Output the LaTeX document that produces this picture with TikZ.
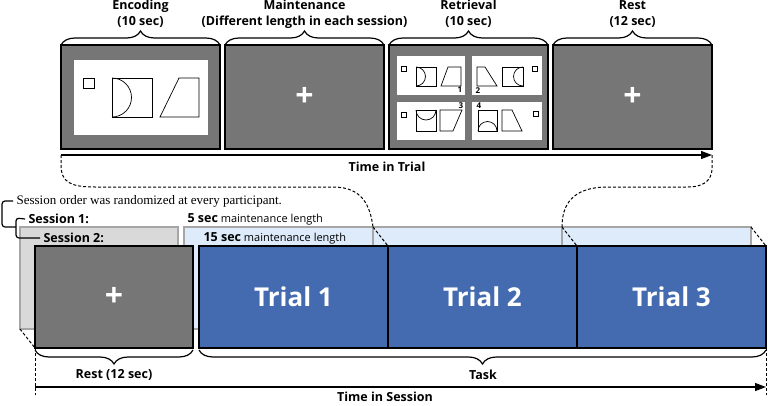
\documentclass[tikz,border=0pt]{standalone}
\usepackage{fontspec}
\setmainfont{Open Sans}
\newfontfamily\timesfont{Liberation Serif}
\usetikzlibrary{positioning,arrows.meta,decorations.pathreplacing}

\definecolor{screengray}{RGB}{118,118,118}
\definecolor{trialblue}{RGB}{68,106,176}
\definecolor{backgray}{RGB}{217,217,217}
\definecolor{backblue}{RGB}{222,235,250}
\definecolor{edgegray}{RGB}{166,166,166}

\newcommand{\crosshair}{{\fontsize{32}{32}\selectfont\bfseries +}}

\tikzset{
  screen/.style={draw=black, line width=1.2pt, fill=screengray, text=white,
    minimum width=159pt, minimum height=104pt, inner sep=0pt, outer sep=0pt},
  restbox/.style={screen, minimum width=158pt, minimum height=102pt},
  trialbox/.style={screen, fill=trialblue, minimum width=189pt, minimum height=102pt,
    font=\bfseries\fontsize{26}{26}\selectfont},
  backbox/.style={draw=edgegray, line width=1.2pt, fill=backblue,
    minimum width=189pt, minimum height=102pt, inner sep=0pt, outer sep=0pt},
  toplbl/.style={align=center, font=\bfseries\fontsize{12.5}{16}\selectfont},
  lbl/.style={font=\bfseries\fontsize{12.5}{15}\selectfont},
  brc/.style={decorate, line width=1.2pt,
    decoration={brace, amplitude=14pt}},
  timeline/.style={line width=1.2pt, -{Triangle[length=11pt,width=8pt]}},
  dashline/.style={line width=1pt, dash pattern=on 3pt off 2pt},
  shp/.style={line width=0.7pt},
  digit/.style={font=\bfseries\fontsize{8}{8}\selectfont, inner sep=0pt}
}

\begin{document}
\begin{tikzpicture}[x=1pt,y=-1pt]
\useasboundingbox (0,0) rectangle (768,405);

% one trial
\node[screen] (enc) at (140.5,97) {};
\node[screen, right=5pt of enc] (maint) {\crosshair};
\node[screen, right=5pt of maint] (retr) {};
\node[screen, right=5pt of retr] (rest) {\crosshair};

\node[toplbl] (enclbl) at (enc.north |- 0,14) {Encoding\\(10 sec)};
\node[toplbl] (maintlbl) at (maint.north |- 0,14) {Maintenance\\(Different length in each session)};
\node[toplbl] (retrlbl) at (retr.north |- 0,14) {Retrieval\\(10 sec)};
\node[toplbl] (restlbl) at (rest.north |- 0,14) {Rest\\(12 sec)};

\draw[brc] (enc.north west) -- (enc.north east);
\draw[brc] (maint.north west) -- (maint.north east);
\draw[brc] (retr.north west) -- (retr.north east);
\draw[brc] (rest.north west) -- (rest.north east);

% encoding display
\fill[white] (74,60) rectangle (208,135);
\draw[shp] (83,78) rectangle (94,88);
\draw[shp] (112,78) rectangle (152,117);
\draw[shp] (112,78) arc(-90:90:19.5);
\draw[shp] (160,117) -- (179,78) -- (199,78) -- (199,117) -- cycle;

% retrieval displays
\begin{scope}[shift={(397,56)}]
\fill[white] (0,0) rectangle (68,39);
\draw[shp] (4,10) rectangle (9,15);
\draw[shp] (19,11) rectangle (39,30);
\draw[shp] (19,11) arc(-90:90:9.5);
\draw[shp] (44,30) -- (51,11) -- (64,11) -- (64,30) -- cycle;
\node[digit] at (63,34) {1};
\end{scope}
\begin{scope}[shift={(472,56)}]
\fill[white] (0,0) rectangle (70,39);
\draw[shp] (5,11) -- (13,11) -- (25,30) -- (5,30) -- cycle;
\draw[shp] (30,11) rectangle (51,30);
\draw[shp] (51,11) arc(-90:-270:9.5);
\draw[shp] (60,10) rectangle (65,15);
\node[digit] at (6,35) {2};
\end{scope}
\begin{scope}[shift={(397,102)}]
\fill[white] (0,0) rectangle (68,38);
\draw[shp] (4,10) rectangle (9,15);
\draw[shp] (19,8) rectangle (39,29);
\draw[shp] (19,8) arc(180:0:10);
\draw[shp] (43,8) -- (65,8) -- (56,29) -- (43,29) -- cycle;
\node[digit] at (64,4) {3};
\end{scope}
\begin{scope}[shift={(472,102)}]
\fill[white] (0,0) rectangle (70,38);
\draw[shp] (6,8) rectangle (25,29);
\draw[shp] (6,29) arc(180:360:9.5);
\draw[shp] (30,8) -- (40,8) -- (50,29) -- (30,29) -- cycle;
\draw[shp] (61,9) rectangle (66,14);
\node[digit] at (7,4) {4};
\end{scope}

\coordinate (trialL) at (61,155);
\coordinate (trialR) at (712,155);
\draw[timeline] (trialL) -- (trialR);
\node[lbl] (triallbl) at (387,167) {Time in Trial};

% sessions, back row
\node[backbox, fill=backgray, minimum width=158pt] (sb0) at (99,278) {};
\node[backbox, right=6pt of sb0] (sb1) {};
\node[backbox, right=0pt of sb1] (sb2) {};
\node[backbox, right=0pt of sb2] (sb3) {};

% sessions, front row
\node[restbox] (rs) at (114,297) {\crosshair};
\node[trialbox, right=6pt of rs] (t1) {Trial 1};
\node[trialbox, right=0pt of t1] (t2) {Trial 2};
\node[trialbox, right=0pt of t2] (t3) {Trial 3};

\draw[dashline] (sb0.south west) -- (rs.south west);
\draw[dashline] (sb1.north east) -- (t1.north east);
\draw[dashline] (sb2.north east) -- (t2.north east);
\draw[dashline] (sb3.north east) -- (t3.north east);

\draw[dashline] (trialL) -- (61,165) .. controls (61,183) and (72,187) .. (95,187)
  -- (333,187) .. controls (362,187) and (370,205) .. (sb1.north east);
\draw[dashline] (trialR) -- (712,168) .. controls (712,183) and (700,187) .. (688,187)
  -- (605,187) .. controls (572,188) and (562,205) .. (sb2.north east);

\node[anchor=west, font=\timesfont\fontsize{13}{13}\selectfont] (sord) at (13,201)
  {Session order was randomized at every participant.};
\node[anchor=west, lbl] (ses1) at (25,219) {Session 1:};
\node[anchor=west, lbl] (ses2) at (40,238) {Session 2:};
\node[anchor=west, font=\fontsize{11}{11}\selectfont] (len1) at (184,219)
  {\textbf{\fontsize{12.5}{12.5}\selectfont 5 sec} maintenance length};
\node[anchor=west, font=\fontsize{11}{11}\selectfont] (len2) at (200,238)
  {\textbf{\fontsize{12.5}{12.5}\selectfont 15 sec} maintenance length};

\draw[line width=1.2pt, rounded corners=3pt] (sord.west) -- (2,201) -- (2,227) -- (16,227);
\draw[line width=1.2pt, rounded corners=3pt] (ses1.west) -- (16,218) -- (16,238) -- (ses2.west);

\draw[brc, decoration={raise=2pt}] (rs.south east) -- (rs.south west);
\draw[brc, decoration={raise=2pt}] (t3.south east) -- (t1.south west);
\node[lbl] (restlbl2) at (rs.south |- 0,375) {Rest (12 sec)};
\node[lbl] (tasklbl) at (483,375) {Task};

\coordinate (sesL) at (35,387);
\coordinate (sesR) at (766,387);
\draw[dashline] (rs.south west) -- ++(0,47);
\draw[dashline] (t3.south east) -- ++(0,47);
\draw[timeline] (sesL) -- (sesR);
\node[lbl, inner ysep=1pt] (sessionlbl) at (385,397) {Time in Session};
\end{tikzpicture}
\end{document}
